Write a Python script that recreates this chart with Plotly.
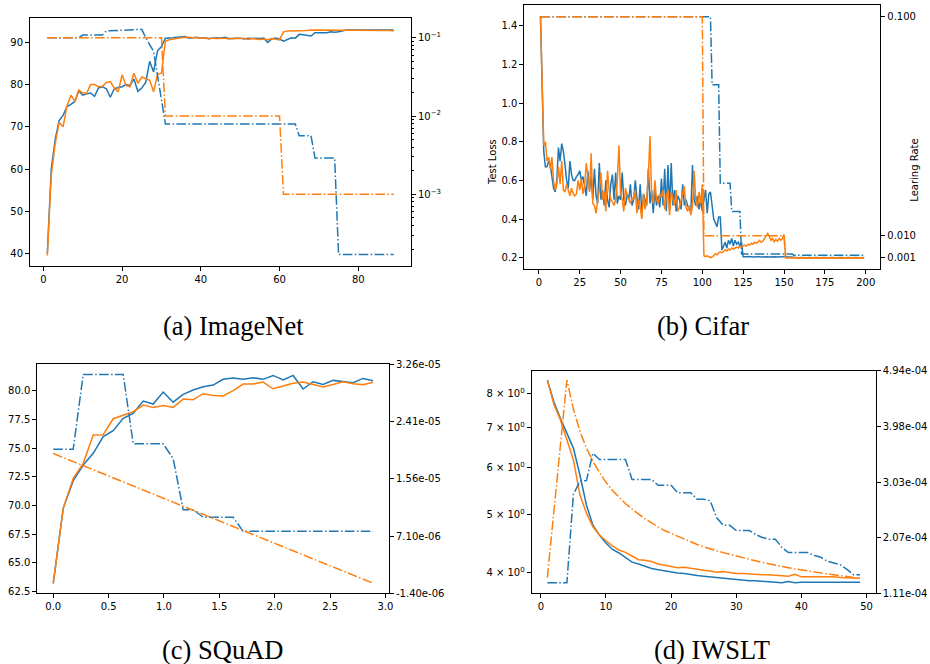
import plotly.graph_objects as go

BLUE = "#1f77b4"
ORANGE = "#ff7f0e"
DASHDOT = "9.6px,2.4px,1.5px,2.4px"

# ---------------- (a) ImageNet ----------------
acc_a_blue = [
    40, 60, 67, 71.5, 72.7, 74.8, 75.3, 76, 78.5, 77.5,
    77.8, 78, 77.2, 79.2, 79.5, 79, 77, 79, 79.3, 79.5,
    80, 79.8, 81.3, 78.4, 79.2, 80.5, 85.5, 83, 88, 89,
    91, 91, 91.1, 91.2, 91.3, 91.4, 91, 91.1, 91.2, 91,
    91.1, 90.9, 91, 91.1, 91, 91.2, 91, 90.9, 91, 91,
    90.8, 91, 90.9, 91, 90.9, 91, 90, 90.8, 91, 90.8,
    90.3, 90.8, 91.1, 91, 91.9, 91.8, 91.6, 91.5, 92.3, 92.3,
    92.4, 92.3, 92.5, 92.4, 92.5, 92.7, 92.9, 92.9, 92.9, 92.9,
    92.9, 92.9, 92.9, 92.9, 92.9, 92.9, 92.9, 92.9, 92.9,
]
acc_a_orange = [
    39.5, 58.5, 66, 71, 70, 75, 77.5, 76, 78.7, 78,
    78, 80, 80, 79.5, 79.6, 80.5, 80.7, 79.2, 78.3, 82.3,
    79.8, 79.5, 82.7, 80.3, 81.8, 81.4, 81, 78.3, 82.5, 82.7,
    90.3, 90.6, 90.8, 91, 91.1, 91.2, 91.2, 91.1, 91.1, 91,
    91.1, 90.8, 91, 90.9, 91, 91, 90.8, 90.9, 91, 90.9,
    91, 90.7, 90.9, 90.8, 90.7, 90.8, 90.6, 90.9, 90.8, 90.6,
    92.5, 92.7, 92.7, 92.7, 92.8, 92.8, 92.8, 92.9, 92.9, 92.9,
    92.9, 92.9, 92.9, 92.9, 92.9, 92.9, 92.9, 92.9, 92.9, 92.9,
    92.9, 92.9, 92.9, 92.9, 92.8, 92.8, 92.8, 92.8, 92.7,
]
lr_a_blue_x = [1, 9, 10, 15, 16, 25, 26, 27, 28, 29, 30, 31, 64, 65, 68, 69, 74, 75, 89]
lr_a_blue = [0.1, 0.1, 0.108, 0.108, 0.122, 0.128, 0.1, 0.08, 0.067, 0.033, 0.016,
             0.0079, 0.0079, 0.0056, 0.0056, 0.0029, 0.0029, 0.00017, 0.00017]
lr_a_orange_x = [1, 30, 31, 60, 61, 89]
lr_a_orange = [0.1, 0.1, 0.01, 0.01, 0.001, 0.001]

# ---------------- (b) Cifar ----------------
loss_b_blue = [
    1.45, 1.0, 0.75, 0.67, 0.67, 0.70, 0.68, 0.62, 0.56, 0.54,
    0.60, 0.77, 0.70, 0.79, 0.75, 0.68, 0.60, 0.56, 0.70, 0.63,
    0.60, 0.60, 0.62, 0.63, 0.65, 0.60, 0.62, 0.57, 0.52, 0.65,
    0.55, 0.62, 0.50, 0.66, 0.52, 0.48, 0.69, 0.50, 0.55, 0.47,
    0.60, 0.50, 0.46, 0.58, 0.63, 0.50, 0.64, 0.48, 0.52, 0.50,
    0.64, 0.50, 0.47, 0.53, 0.50, 0.58, 0.47, 0.50, 0.60, 0.51,
    0.45, 0.58, 0.43, 0.53, 0.50, 0.47, 0.66, 0.48, 0.55, 0.43,
    0.55, 0.47, 0.52, 0.46, 0.61, 0.47, 0.66, 0.44, 0.68, 0.45,
    0.69, 0.47, 0.55, 0.44, 0.52, 0.50, 0.45, 0.58, 0.47, 0.50,
    0.47, 0.45, 0.44, 0.68, 0.50, 0.47, 0.52, 0.45, 0.50, 0.44,
    0.50, 0.55, 0.43, 0.53, 0.54, 0.45, 0.40, 0.38, 0.36, 0.41,
    0.41, 0.24, 0.26, 0.28, 0.25, 0.29, 0.27, 0.30, 0.26, 0.29,
    0.27, 0.28, 0.26, 0.28, 0.205, 0.204, 0.205, 0.206, 0.205, 0.204,
    0.205, 0.204, 0.205, 0.206, 0.205, 0.204, 0.205, 0.205, 0.206, 0.205,
    0.204, 0.205, 0.205, 0.206, 0.205, 0.204, 0.205, 0.205, 0.204, 0.205,
    0.206, 0.205, 0.204, 0.205, 0.205, 0.201, 0.200, 0.201, 0.200, 0.201,
    0.200, 0.201, 0.200, 0.200, 0.201, 0.200, 0.201, 0.200, 0.201, 0.200,
    0.200, 0.201, 0.200, 0.201, 0.200, 0.200, 0.201, 0.200, 0.201, 0.200,
    0.201, 0.200, 0.200, 0.201, 0.200, 0.201, 0.200, 0.200, 0.201, 0.200,
    0.201, 0.200, 0.201, 0.200, 0.200, 0.201, 0.200, 0.201, 0.200,
]
loss_b_orange = [
    1.45, 1.10, 0.78, 0.80, 0.70, 0.72, 0.66, 0.72, 0.60, 0.55,
    0.58, 0.67, 0.58, 0.70, 0.55, 0.54, 0.58, 0.55, 0.52, 0.56,
    0.53, 0.52, 0.53, 0.60, 0.55, 0.61, 0.53, 0.57, 0.69, 0.62,
    0.54, 0.74, 0.48, 0.47, 0.43, 0.50, 0.55, 0.64, 0.50, 0.54,
    0.44, 0.65, 0.55, 0.50, 0.49, 0.47, 0.50, 0.60, 0.78, 0.53,
    0.50, 0.44, 0.56, 0.52, 0.50, 0.48, 0.51, 0.50, 0.55, 0.43,
    0.50, 0.46, 0.40, 0.53, 0.45, 0.50, 0.63, 0.83, 0.52, 0.48,
    0.60, 0.50, 0.48, 0.53, 0.51, 0.55, 0.45, 0.52, 0.55, 0.42,
    0.54, 0.50, 0.47, 0.55, 0.44, 0.46, 0.50, 0.53, 0.57, 0.46,
    0.44, 0.47, 0.42, 0.47, 0.65, 0.50, 0.46, 0.54, 0.48, 0.58,
    0.21, 0.205, 0.21, 0.205, 0.20, 0.205, 0.21, 0.22, 0.215, 0.225,
    0.23, 0.225, 0.235, 0.24, 0.235, 0.245, 0.24, 0.25, 0.245, 0.25,
    0.255, 0.25, 0.26, 0.255, 0.26, 0.265, 0.26, 0.27, 0.265, 0.275,
    0.27, 0.28, 0.275, 0.28, 0.29, 0.28, 0.285, 0.30, 0.31, 0.325,
    0.31, 0.29, 0.30, 0.28, 0.295, 0.285, 0.30, 0.29, 0.30, 0.32,
    0.200, 0.199, 0.200, 0.198, 0.199, 0.200, 0.199, 0.198, 0.199, 0.200,
    0.199, 0.198, 0.199, 0.200, 0.199, 0.198, 0.199, 0.200, 0.199, 0.198,
    0.199, 0.200, 0.199, 0.198, 0.199, 0.200, 0.199, 0.198, 0.199, 0.200,
    0.199, 0.198, 0.199, 0.200, 0.199, 0.198, 0.199, 0.200, 0.199, 0.198,
    0.199, 0.200, 0.199, 0.198, 0.199, 0.200, 0.199, 0.198, 0.199,
]
lr_b_blue_x = [1, 105, 106, 110, 111, 117, 118, 123, 124, 155, 156, 199]
lr_b_blue = [0.1, 0.1, 0.072, 0.072, 0.0316, 0.0316, 0.02, 0.02, 0.0025, 0.0025, 0.002, 0.002]
lr_b_orange_x = [1, 100, 101, 150, 151, 199]
lr_b_orange = [0.1, 0.1, 0.01, 0.01, 0.001, 0.001]

# ---------------- (c) SQuAD ----------------
steps_c = [round(0.09025 * i, 4) for i in range(33)]
acc_c_blue = [
    63.23, 69.76, 72.17, 73.53, 74.55, 76.0, 76.52, 77.6, 78.03, 79.1,
    78.84, 79.88, 79.0, 79.68, 80.06, 80.35, 80.49, 81.0, 81.1, 80.99,
    81.13, 80.99, 81.33, 80.93, 81.33, 80.15, 80.78, 80.55, 80.9, 80.78,
    80.7, 81.07, 80.87,
]
acc_c_orange = [
    63.23, 69.76, 72.37, 73.68, 76.14, 76.17, 77.56, 77.88, 78.17, 78.75,
    78.55, 78.72, 78.55, 79.27, 79.22, 79.74, 79.59, 79.54, 80.0, 80.58,
    80.58, 80.75, 80.17, 80.41, 80.64, 80.75, 80.55, 80.32, 80.55, 80.78,
    80.61, 80.52, 80.73,
]
lr_c_blue_idx = [0, 2, 3, 7, 8, 11, 12, 13, 14, 15, 18, 19, 32]
lr_c_blue = [2.0e-5, 2.0e-5, 3.11e-5, 3.11e-5, 2.08e-5, 2.08e-5, 1.86e-5,
             1.10e-5, 1.10e-5, 9.9e-6, 9.9e-6, 7.8e-6, 7.8e-6]
lr_c_orange_idx = [0, 32]
lr_c_orange = [1.935e-5, 1.0e-7]

# ---------------- (d) IWSLT ----------------
loss_d_blue = [
    8.42, 7.74, 7.26, 6.85, 6.47, 5.83, 5.19, 4.80, 4.62, 4.48,
    4.37, 4.31, 4.23, 4.16, 4.13, 4.09, 4.06, 4.04, 4.02, 4.00,
    3.99, 3.98, 3.96, 3.95, 3.94, 3.93, 3.92, 3.91, 3.90, 3.88,
    3.88, 3.87, 3.87, 3.86, 3.86, 3.85, 3.84, 3.86, 3.84, 3.85,
    3.85, 3.85, 3.85, 3.84, 3.84, 3.84, 3.85, 3.84, 3.85,
]
loss_d_orange = [
    8.42, 7.67, 7.22, 6.68, 6.18, 5.40, 5.03, 4.77, 4.62, 4.52,
    4.43, 4.36, 4.32, 4.26, 4.20, 4.19, 4.17, 4.13, 4.11, 4.10,
    4.07, 4.08, 4.06, 4.04, 4.03, 4.02, 4.00, 4.01, 3.99, 3.98,
    3.98, 3.97, 3.96, 3.96, 3.96, 3.95, 3.95, 3.94, 3.97, 3.93,
    3.93, 3.93, 3.94, 3.93, 3.93, 3.92, 3.92, 3.92, 3.91,
]
lr_d_blue = [v * 1e-4 for v in [
    1.29, 1.29, 1.29, 1.29, 2.81, 3.04, 3.05, 3.52, 3.41, 3.41,
    3.41, 3.41, 3.41, 3.07, 3.07, 3.07, 3.07, 2.97, 2.97, 2.97,
    2.84, 2.84, 2.84, 2.73, 2.73, 2.70, 2.41, 2.28, 2.28, 2.19,
    2.19, 2.19, 2.12, 2.07, 2.04, 2.04, 1.90, 1.81, 1.81, 1.81,
    1.81, 1.76, 1.73, 1.66, 1.63, 1.60, 1.52, 1.43, 1.43,
]]
lr_d_orange = [v * 1e-4 for v in [
    1.38, 2.51, 3.65, 4.78, 4.28, 3.90, 3.61, 3.38, 3.19, 3.02,
    2.88, 2.76, 2.65, 2.56, 2.47, 2.39, 2.32, 2.25, 2.19, 2.14,
    2.09, 2.04, 1.99, 1.95, 1.91, 1.87, 1.84, 1.81, 1.78, 1.75,
    1.72, 1.69, 1.66, 1.64, 1.62, 1.59, 1.57, 1.55, 1.53, 1.51,
    1.49, 1.48, 1.46, 1.44, 1.43, 1.41, 1.39, 1.38, 1.37,
]]

W, H = 930, 664


def px_x(a, b):
    return [a / W, b / W]


def px_y(top, bottom):
    return [1 - bottom / H, 1 - top / H]


def line(x, y, color, xa, ya, dash=None):
    return go.Scatter(x=x, y=y, mode="lines", xaxis=xa, yaxis=ya,
                      line=dict(color=color, width=1.5, dash=dash or "solid"),
                      hoverinfo="skip")


fig = go.Figure()

# (a)
ep_a = list(range(1, len(acc_a_blue) + 1))
fig.add_trace(line(ep_a, acc_a_blue, BLUE, "x", "y"))
fig.add_trace(line(ep_a, acc_a_orange, ORANGE, "x", "y"))
fig.add_trace(line(lr_a_blue_x, lr_a_blue, BLUE, "x", "y2", DASHDOT))
fig.add_trace(line(lr_a_orange_x, lr_a_orange, ORANGE, "x", "y2", DASHDOT))

# (b)
ep_b = list(range(1, len(loss_b_blue) + 1))
fig.add_trace(line(ep_b, loss_b_blue, BLUE, "x2", "y3"))
fig.add_trace(line(list(range(1, len(loss_b_orange) + 1)), loss_b_orange, ORANGE, "x2", "y3"))
fig.add_trace(line(lr_b_blue_x, lr_b_blue, BLUE, "x2", "y4", DASHDOT))
fig.add_trace(line(lr_b_orange_x, lr_b_orange, ORANGE, "x2", "y4", DASHDOT))

# (c)
fig.add_trace(line(steps_c, acc_c_blue, BLUE, "x3", "y5"))
fig.add_trace(line(steps_c, acc_c_orange, ORANGE, "x3", "y5"))
fig.add_trace(line([steps_c[i] for i in lr_c_blue_idx], lr_c_blue, BLUE, "x3", "y6", DASHDOT))
fig.add_trace(line([steps_c[i] for i in lr_c_orange_idx], lr_c_orange, ORANGE, "x3", "y6", DASHDOT))

# (d)
ep_d = list(range(1, len(loss_d_blue) + 1))
fig.add_trace(line(ep_d, loss_d_blue, BLUE, "x4", "y7"))
fig.add_trace(line(ep_d, loss_d_orange, ORANGE, "x4", "y7"))
fig.add_trace(line(ep_d, lr_d_blue, BLUE, "x4", "y8", DASHDOT))
fig.add_trace(line(ep_d, lr_d_orange, ORANGE, "x4", "y8", DASHDOT))

tickfont = dict(family="DejaVu Sans", size=10, color="#000")
base = dict(showline=True, linecolor="#000", linewidth=1, ticks="outside",
            ticklen=4, tickwidth=1, tickcolor="#000", showgrid=False,
            zeroline=False, tickfont=tickfont, automargin=False)

log_minor = [m * 10 ** e for e in (-4, -3, -2) for m in range(2, 10)]

fig.update_layout(
    width=W, height=H, margin=dict(l=0, r=0, t=0, b=0, autoexpand=False),
    paper_bgcolor="white", plot_bgcolor="white", showlegend=False,
    # (a)
    xaxis=dict(base, domain=px_x(30, 411), anchor="y", mirror=True,
               range=[-3.4, 93.4], tickvals=[0, 20, 40, 60, 80]),
    yaxis=dict(base, domain=px_y(18.3, 265.7), anchor="x", mirror=True,
               range=[37.1, 95.7], tickvals=[40, 50, 60, 70, 80, 90]),
    yaxis2=dict(base, overlaying="y", anchor="x", side="right", type="log",
                range=[-3.912, -0.752], tickvals=[1e-3, 1e-2, 1e-1],
                ticktext=["10<sup>−3</sup>", "10<sup>−2</sup>", "10<sup>−1</sup>"],
                minor=dict(ticks="outside", ticklen=2, tickcolor="#000",
                           tickvals=log_minor, showgrid=False)),
    # (b)
    xaxis2=dict(base, domain=px_x(524.3, 880.3), anchor="y3", mirror=True,
                range=[-8.9, 208.9], tickvals=[0, 25, 50, 75, 100, 125, 150, 175, 200]),
    yaxis3=dict(base, domain=px_y(4.7, 269.3), anchor="x2", mirror=True,
                range=[0.14, 1.509], tickvals=[0.2, 0.4, 0.6, 0.8, 1.0, 1.2, 1.4],
                tickformat=".1f"),
    yaxis4=dict(base, overlaying="y3", anchor="x2", side="right",
                range=[-0.00377, 0.1049], tickvals=[0.001, 0.01, 0.1],
                ticktext=["0.001", "0.010", "0.100"]),
    # (c)
    xaxis3=dict(base, domain=px_x(37.3, 389), anchor="y5", mirror=True,
                range=[-0.144, 3.032], tickvals=[0, 0.5, 1, 1.5, 2, 2.5, 3],
                tickformat=".1f"),
    yaxis5=dict(base, domain=px_y(364.3, 593.3), anchor="x3", mirror=True,
                range=[62.36, 82.3], tickvals=[62.5, 65, 67.5, 70, 72.5, 75, 77.5, 80],
                tickformat=".1f"),
    yaxis6=dict(base, overlaying="y5", anchor="x3", side="right",
                range=[-1.4e-6, 3.26e-5],
                tickvals=[-1.4e-6, 7.1e-6, 1.56e-5, 2.41e-5, 3.26e-5],
                ticktext=["-1.40e-06", "7.10e-06", "1.56e-05", "2.41e-05", "3.26e-05"]),
    # (d)
    xaxis4=dict(base, domain=px_x(531.7, 875.7), anchor="y7", mirror=True,
                range=[-1.4, 51.4], tickvals=[0, 10, 20, 30, 40, 50]),
    yaxis7=dict(base, domain=px_y(370.7, 593.3), anchor="x4", mirror=True,
                type="log", range=[0.5667, 0.9411], tickvals=[4, 5, 6, 7, 8],
                ticktext=[f"{v} × 10<sup>0</sup>" for v in (4, 5, 6, 7, 8)]),
    yaxis8=dict(base, overlaying="y7", anchor="x4", side="right",
                range=[1.11e-4, 4.94e-4],
                tickvals=[1.11e-4, 2.0675e-4, 3.025e-4, 3.9825e-4, 4.94e-4],
                ticktext=["1.11e-04", "2.07e-04", "3.03e-04", "3.98e-04", "4.94e-04"]),
)

cap_font = dict(family="Liberation Serif", size=26.5, color="#000")
captions = [("(a) ImageNet", 233, 326), ("(b) Cifar", 703, 326),
            ("(c) SQuAD", 222, 650), ("(d) IWSLT", 712, 650)]
for text, cx, cy in captions:
    fig.add_annotation(text=text, x=cx / W, y=1 - cy / H, xref="paper", yref="paper",
                       showarrow=False, font=cap_font, xanchor="center", yanchor="middle")

label_font = dict(family="DejaVu Sans", size=10, color="#000")
fig.add_annotation(text="Test Loss", x=492.3 / W, y=1 - 136.7 / H, xref="paper", yref="paper",
                   showarrow=False, textangle=-90, font=label_font)
fig.add_annotation(text="Learing Rate", x=922 / W, y=1 - 136.7 / H, xref="paper", yref="paper",
                   showarrow=False, textangle=-90, font=label_font)

# the page body has a default margin; drop it so the figure sits at the window origin
fig.write_html("out.html", config={"displayModeBar": False},
               post_script="document.body.style.margin = '0';")
